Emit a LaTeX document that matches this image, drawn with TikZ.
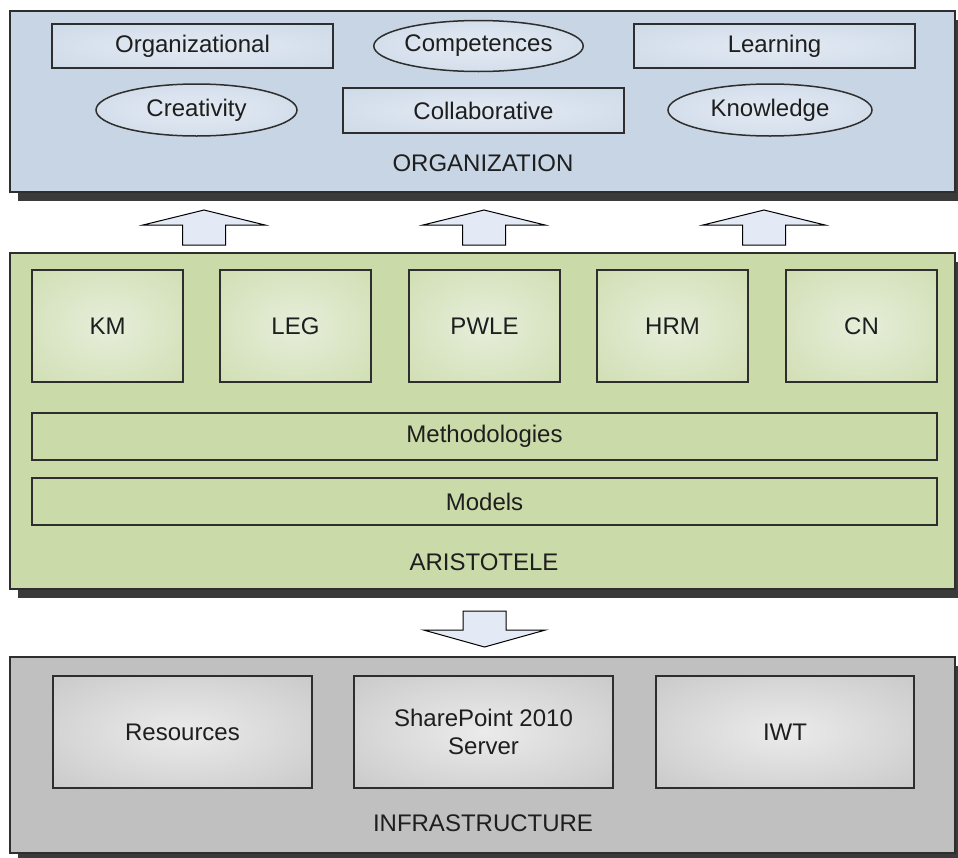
\documentclass[tikz,border=0pt]{standalone}
\usepackage{fontspec}
\setmainfont{Liberation Sans}
\usetikzlibrary{shapes.geometric,shadows}

% palette
\definecolor{orgbg}{HTML}{C8D5E5}
\definecolor{orgin}{HTML}{E3EAF3}
\definecolor{aribg}{HTML}{CADAA8}
\definecolor{ariin}{HTML}{E6EEDA}
\definecolor{infbg}{HTML}{C0C0C0}
\definecolor{infin}{HTML}{EBEBEB}
\definecolor{edge}{HTML}{2E2E2E}
\definecolor{shade}{HTML}{3A3A3A}
\definecolor{arrowfill}{HTML}{E3EAF5}
\definecolor{ink}{HTML}{1E1E1E}

% soft radial glow for the inner boxes
\colorlet{boxin}{white}
\colorlet{boxout}{gray}
\pgfdeclareradialshading[boxin,boxout]{softglow}{\pgfpoint{0bp}{0bp}}%
  {color(0bp)=(boxin); color(46bp)=(boxout); color(50bp)=(boxout)}

\tikzset{
  txt/.style={font=\fontsize{24}{28}\selectfont, text=ink},
  panel/.style={draw=edge, line width=1.5pt, rectangle, inner sep=0pt,
    drop shadow={shadow xshift=8pt, shadow yshift=-9pt, opacity=1, fill=shade}},
  glow/.style 2 args={/utils/exec={\colorlet{boxin}{#1}\colorlet{boxout}{#2}},
    shading=softglow, draw=edge, line width=1.5pt, inner sep=0pt, txt},
  orgbox/.style={glow={orgin}{orgbg}, rectangle},
  orgoval/.style={glow={orgin}{orgbg}, ellipse},
  aribox/.style={glow={ariin}{aribg}, rectangle},
  infbox/.style={glow={infin}{infbg}, rectangle, align=center},
  blockarrow/.style={draw=black, line width=1pt, fill=arrowfill, line join=miter},
  uparrow/.pic={\draw[blockarrow] (0,0) -- (61,15) -- (21.5,15) -- (21.5,35)
      -- (-21.5,35) -- (-21.5,15) -- (-61,15) -- cycle;},
  downarrow/.pic={\draw[blockarrow] (-21.5,0) -- (21.5,0) -- (21.5,19) -- (61,19)
      -- (0,36) -- (-61,19) -- (-21.5,19) -- cycle;}
}

\begin{document}
\begin{tikzpicture}[x=1pt, y=-1pt]
\useasboundingbox (0,0) rectangle (958,857);

% ---- ORGANIZATION layer ----
\node[panel, fill=orgbg, minimum width=945pt, minimum height=181pt] (org) at (482.5,101.5) {};
\node[orgbox, minimum width=281pt, minimum height=44pt] (organizational) at (192.5,46) {Organizational};
\node[orgoval, minimum width=203pt, minimum height=51pt] (competences) at (478.5,46) {Competences};
\node[orgbox, minimum width=281pt, minimum height=44pt] (learning) at (774.5,46) {Learning};
\node[orgoval, minimum width=201pt, minimum height=52pt] (creativity) at (196.5,110) {Creativity};
\node[orgbox, minimum width=281pt, minimum height=45pt] (collaborative) at (483.5,110.5) {Collaborative};
\node[orgoval, minimum width=204pt, minimum height=52pt] (knowledge) at (770,110) {Knowledge};
\node[txt] (orglabel) at (483,163) {ORGANIZATION};

% ---- arrows between layers ----
\pic at (204,210) {uparrow};
\pic at (484,210) {uparrow};
\pic at (764,210) {uparrow};
\pic at (484.5,611) {downarrow};

% ---- ARISTOTELE layer ----
\node[panel, fill=aribg, minimum width=945pt, minimum height=336pt] (ari) at (482.5,421) {};
\node[aribox, minimum width=151pt, minimum height=112pt] (km) at (107.5,326) {KM};
\node[aribox, minimum width=151pt, minimum height=112pt] (leg) at (295.5,326) {LEG};
\node[aribox, minimum width=151pt, minimum height=112pt] (pwle) at (484.5,326) {PWLE};
\node[aribox, minimum width=151pt, minimum height=112pt] (hrm) at (672.5,326) {HRM};
\node[aribox, minimum width=151pt, minimum height=112pt] (cn) at (861.5,326) {CN};
\node[draw=edge, line width=1.5pt, fill=aribg, inner sep=0pt, txt,
      minimum width=905pt, minimum height=47pt] (methods) at (484.5,436.5) {Methodologies};
\node[draw=edge, line width=1.5pt, fill=aribg, inner sep=0pt, txt,
      minimum width=905pt, minimum height=47pt] (models) at (484.5,501.5) {Models};
\node[txt] (arilabel) at (484,562) {ARISTOTELE};

% ---- INFRASTRUCTURE layer ----
\node[panel, fill=infbg, minimum width=945pt, minimum height=196pt] (inf) at (482.5,755) {};
\node[infbox, minimum width=259pt, minimum height=112pt] (resources) at (182.5,732) {Resources};
\node[infbox, minimum width=259pt, minimum height=112pt] (sharepoint) at (483.5,732) {SharePoint 2010\\Server};
\node[infbox, minimum width=258pt, minimum height=112pt] (iwt) at (785,732) {IWT};
\node[txt] (inflabel) at (483,823) {INFRASTRUCTURE};
\end{tikzpicture}
\end{document}
